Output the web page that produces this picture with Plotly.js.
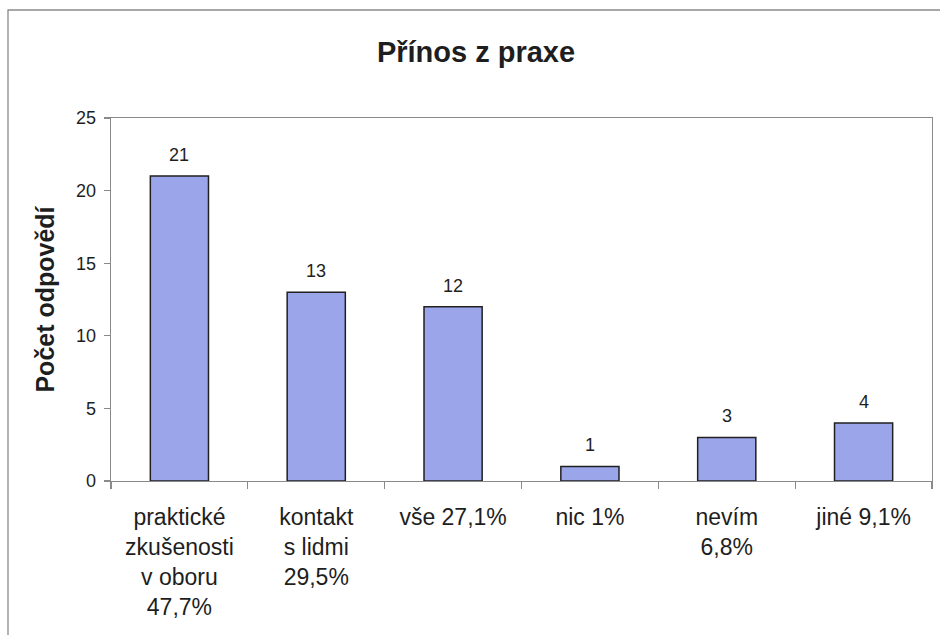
<!DOCTYPE html>
<html>
<head>
<meta charset="utf-8">
<script src="https://cdn.plot.ly/plotly-3.0.1.min.js"></script>
<style>html,body{margin:0;padding:0;background:#fff;}#chart{width:940px;height:635px;}</style>
</head>
<body>
<div id="chart"></div>
<script>
var categories = ["praktické<br>zkušenosti<br>v oboru<br>47,7%", "kontakt<br>s lidmi<br>29,5%", "vše 27,1%", "nic 1%", "nevím<br>6,8%", "jiné 9,1%"];
var counts = [21, 13, 12, 1, 3, 4];
var yTicks = [0, 5, 10, 15, 20, 25];

var FONT = "Arial, 'Liberation Sans', sans-serif";
var TXT = "#1e1e1e";
var GRID = "#8a8a8a";

var trace = {
  type: "bar",
  x: categories,
  y: counts,
  marker: {color: "#9ba6ea", line: {color: "#202020", width: 1.5}},
  hoverinfo: "none"
};

var annotations = categories.map(function(c, i) {
  return {x: c, y: counts[i], xref: "x", yref: "y", text: String(counts[i]),
    showarrow: false, yanchor: "bottom", yshift: 9,
    font: {family: FONT, size: 18, color: TXT}};
});

var layout = {
  width: 940, height: 635,
  margin: {l: 111, r: 8, t: 118, b: 154},
  paper_bgcolor: "#ffffff", plot_bgcolor: "#ffffff",
  showlegend: false,
  bargap: 0.575,
  title: {text: "<b>Přínos z praxe</b>", x: 476/940, xanchor: "center", xref: "container",
    y: 1 - 52/635, yanchor: "middle", yref: "container",
    font: {family: FONT, size: 29, color: TXT}},
  xaxis: {
    type: "category",
    showline: true, linecolor: GRID, linewidth: 1.3, mirror: true,
    ticks: "outside", tickson: "boundaries", ticklen: 7, tickcolor: GRID, tickwidth: 1.3,
    showgrid: false, zeroline: false,
    tickfont: {family: FONT, size: 23, color: TXT},
    ticklabelstandoff: 15,
    tickangle: 0, automargin: false
  },
  yaxis: {
    range: [0, 25], tickvals: yTicks, ticktext: yTicks.map(String),
    showline: true, linecolor: GRID, linewidth: 1.3, mirror: true,
    ticks: "outside", ticklen: 6, tickcolor: GRID, tickwidth: 1.3,
    showgrid: false, zeroline: false,
    tickfont: {family: FONT, size: 18, color: TXT},
    ticklabelstandoff: 4,
    title: {text: "<b>Počet odpovědí</b>", standoff: 14, font: {family: FONT, size: 25, color: TXT}},
    automargin: false
  },
  annotations: annotations,
  shapes: [{
    type: "rect", xref: "paper", yref: "paper",
    x0: (8 - 111) / 821, x1: 1 + (950 - 932) / 821,
    y0: -(650 - 481) / 363, y1: 1 + (118 - 10) / 363,
    line: {color: "#8a8a8a", width: 1.3}, fillcolor: "rgba(0,0,0,0)", layer: "below"
  }]
};

Plotly.newPlot("chart", [trace], layout, {displayModeBar: false, staticPlot: true});
</script>
</body>
</html>
